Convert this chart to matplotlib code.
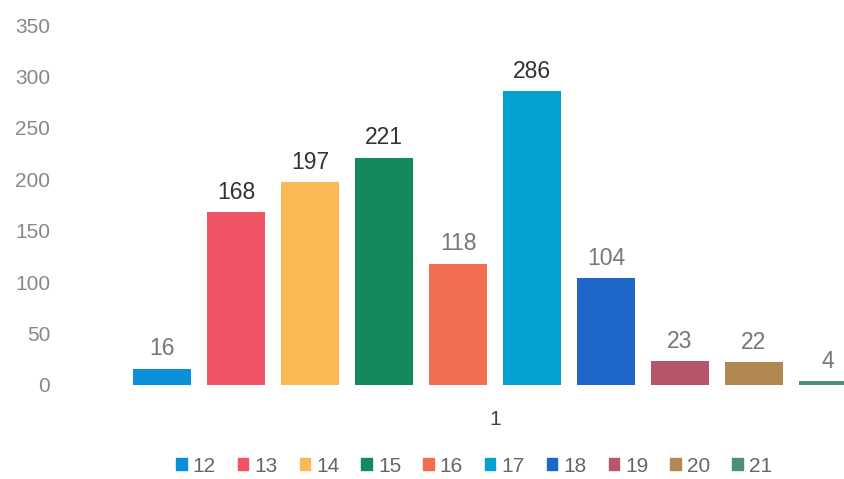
import matplotlib.pyplot as plt
from matplotlib.patches import Patch

plt.rcParams['font.family'] = ['Liberation Sans', 'DejaVu Sans']

series = ["12", "13", "14", "15", "16", "17", "18", "19", "20", "21"]
values = [16, 168, 197, 221, 118, 286, 104, 23, 22, 4]
colors = ["#0A8FD8", "#EE5464", "#FBB955", "#138A5E", "#F26E50",
          "#05A2D0", "#1E66C8", "#B5566A", "#B08850", "#4E8E7E"]
label_colors = ["#777777", "#333333", "#333333", "#333333", "#777777",
                "#333333", "#777777", "#777777", "#777777", "#777777"]
category = "1"

fig = plt.figure(figsize=(8.45, 4.79), dpi=100)
ax = fig.add_axes([60 / 845, 94 / 479, 785 / 845, 360 / 479])

n = len(series)
width = 0.78
for i, (s, v, c, lc) in enumerate(zip(series, values, colors, label_colors)):
    x = i - (n - 1) / 2
    ax.bar(x, v, width=width, color=c, label=s)
    ax.text(x, v + 8, str(v), ha="center", va="bottom", fontsize=16.5, color=lc)

ax.set_xlim(-5.88, 4.73)
ax.set_ylim(0, 350)
ax.set_yticks(range(0, 351, 50))
ax.set_xticks([0])
ax.set_xticklabels([category])
ax.tick_params(axis="y", length=0, labelsize=15, labelcolor="#888888", pad=7)
ax.tick_params(axis="x", length=0, labelsize=15, labelcolor="#444444", pad=18)
for sp in ax.spines.values():
    sp.set_visible(False)

handles = [Patch(color=c) for c in colors]
fig.legend(handles, series, loc="center", bbox_to_anchor=(474 / 845, 1 - 466 / 479),
           ncol=n, frameon=False, fontsize=15, handlelength=0.5, handleheight=0.5,
           handletextpad=0.3, columnspacing=1.05, labelcolor="#666666")

fig.savefig("out.png", dpi=100)
